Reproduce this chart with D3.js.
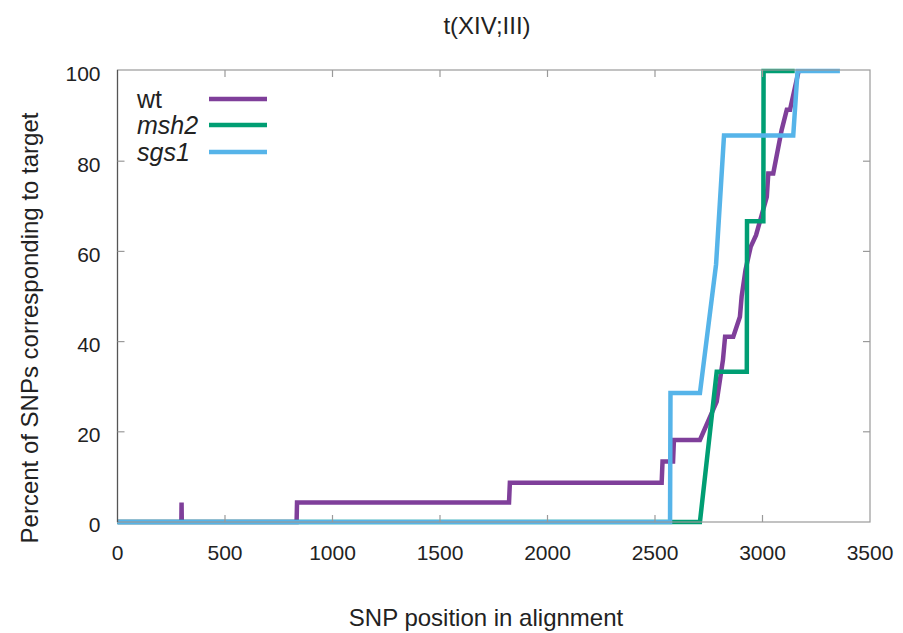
<!DOCTYPE html>
<html lang="en">
<head>
  <meta charset="UTF-8">
  <title>t(XIV;III)</title>
  <script src="https://d3js.org/d3.v7.min.js"></script>
  <style>
    body {
      margin: 0;
      background: #fff;
      font-family: "Liberation Sans", Arial, sans-serif;
    }
    .tick-label {
      font-size: 21px;
      fill: #222;
    }
    .axis-title {
      font-size: 24px;
      fill: #222;
    }
    .legend-label {
      font-size: 25px;
      fill: #222;
    }
    .series {
      fill: none;
      stroke-width: 4.5;
      stroke-linejoin: miter;
    }
  </style>
</head>
<body>
<div id="chart"></div>

<script>
  // SNP position (x) and percent matching target (y)
  const wtX = [0, 297, 298, 299, 833, 835, 1821, 1825, 2531, 2535, 2584, 2588, 2709, 2787, 2816, 2826, 2864, 2895, 2903, 2921, 2945, 2970, 3020, 3027, 3050, 3089, 3113, 3128, 3168];
  const wtY = [0, 0, 4.3, 0, 0, 4.3, 4.3, 8.7, 8.7, 13.4, 13.4, 18.2, 18.2, 26.7, 35.9, 41.1, 41.1, 45.5, 50, 55.9, 61, 63.6, 72.1, 77.3, 77.3, 86.9, 91.4, 91.4, 100];

  const msh2X = [0, 2709, 2787, 2927, 2928, 3004, 3005, 3150];
  const msh2Y = [0, 0, 33.3, 33.3, 66.7, 66.7, 100, 100];

  const sgs1X = [0, 2570, 2572, 2709, 2784, 2821, 3143, 3163, 3360];
  const sgs1Y = [0, 0, 28.6, 28.6, 57.1, 85.7, 85.7, 100, 100];

  const seriesNames = ["wt", "msh2", "sgs1"];
  const seriesItalic = [false, true, true];
  const seriesColors = ["#7f3f9a", "#009e73", "#56b4e9"];

  const xTicks = [0, 500, 1000, 1500, 2000, 2500, 3000, 3500];
  const yTicks = [0, 20, 40, 60, 80, 100];

  const width = 903;
  const height = 633;
  const plotL = 117.5, plotR = 870, plotT = 71, plotB = 522;

  const svg = d3.select("#chart").append("svg")
    .attr("width", width)
    .attr("height", height);

  const x = d3.scaleLinear().domain([0, 3500]).range([plotL, plotR]);
  const y = d3.scaleLinear().domain([0, 100]).range([plotB, plotT]);

  const series = [
    d3.zip(wtX, wtY),
    d3.zip(msh2X, msh2Y),
    d3.zip(sgs1X, sgs1Y)
  ];

  const line = d3.line()
    .x(d => x(d[0]))
    .y(d => y(d[1]));

  // curves
  svg.append("g")
    .selectAll("path")
    .data(series)
    .join("path")
      .attr("class", "series")
      .attr("d", line)
      .attr("stroke", (d, i) => seriesColors[i]);

  // border and mirrored ticks, gnuplot style
  const frame = svg.append("g").attr("stroke", "#9a9a9a").attr("stroke-width", 1.2);
  frame.append("rect")
    .attr("x", plotL).attr("y", plotT - 1)
    .attr("width", plotR - plotL).attr("height", plotB - plotT + 1)
    .attr("fill", "none");
  frame.append("line")
    .attr("x1", plotL).attr("x2", plotL)
    .attr("y1", plotT - 1).attr("y2", plotB)
    .attr("stroke", "#555");

  const tickLen = 7;
  xTicks.slice(1, -1).forEach(t => {
    frame.append("line").attr("x1", x(t)).attr("x2", x(t)).attr("y1", plotB).attr("y2", plotB - tickLen);
    frame.append("line").attr("x1", x(t)).attr("x2", x(t)).attr("y1", plotT - 1).attr("y2", plotT - 1 + tickLen);
  });
  yTicks.slice(1, -1).forEach(t => {
    frame.append("line").attr("x1", plotL).attr("x2", plotL + tickLen).attr("y1", y(t)).attr("y2", y(t));
    frame.append("line").attr("x1", plotR).attr("x2", plotR - tickLen).attr("y1", y(t)).attr("y2", y(t));
  });

  // tick labels
  svg.append("g")
    .selectAll("text")
    .data(xTicks)
    .join("text")
      .attr("class", "tick-label")
      .attr("x", d => x(d))
      .attr("y", plotB + 38)
      .attr("text-anchor", "middle")
      .text(d => d);

  svg.append("g")
    .selectAll("text")
    .data(yTicks)
    .join("text")
      .attr("class", "tick-label")
      .attr("x", plotL - 17)
      .attr("y", d => y(d) + 3)
      .attr("dy", "0.35em")
      .attr("text-anchor", "end")
      .text(d => d);

  // titles
  svg.append("text")
    .attr("class", "axis-title")
    .attr("x", 487)
    .attr("y", 34)
    .attr("text-anchor", "middle")
    .text("t(XIV;III)");

  svg.append("text")
    .attr("class", "axis-title")
    .attr("x", 486)
    .attr("y", 626)
    .attr("text-anchor", "middle")
    .text("SNP position in alignment");

  svg.append("text")
    .attr("class", "axis-title")
    .attr("transform", "translate(38,328) rotate(-90)")
    .attr("text-anchor", "middle")
    .text("Percent of SNPs corresponding to target");

  // legend
  const legend = svg.append("g")
    .selectAll("g")
    .data(seriesNames)
    .join("g")
      .attr("transform", (d, i) => `translate(0,${[99, 125, 152][i]})`);

  legend.append("text")
    .attr("class", "legend-label")
    .attr("x", 137)
    .attr("dy", "0.35em")
    .style("font-style", (d, i) => seriesItalic[i] ? "italic" : "normal")
    .text(d => d);

  legend.append("line")
    .attr("x1", 209).attr("x2", 267)
    .attr("stroke", (d, i) => seriesColors[i])
    .attr("stroke-width", 4.5);
</script>

</body>
</html>
